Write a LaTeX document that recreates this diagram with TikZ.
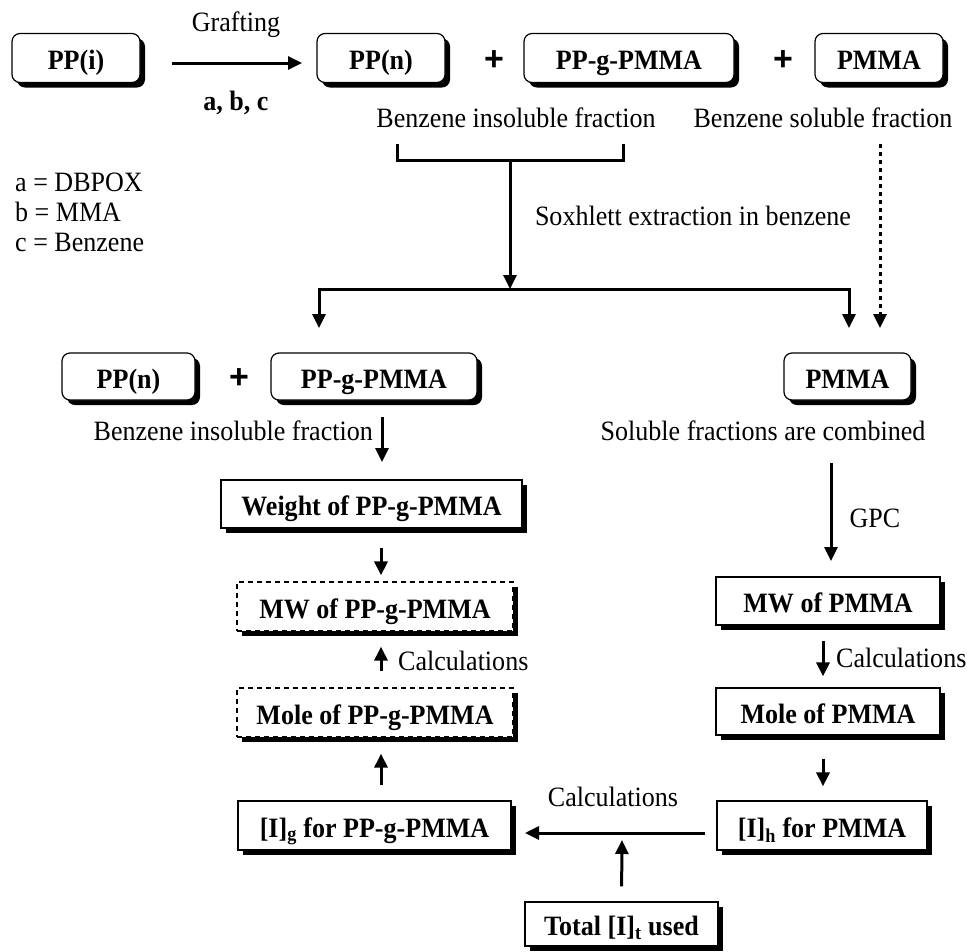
\documentclass[tikz,border=0pt]{standalone}
\usepackage{fontspec}
\setmainfont[FakeStretch=0.93]{Liberation Serif}
\newfontfamily\plusfont{Liberation Sans}
\usetikzlibrary{shadows,arrows.meta}
\begin{document}
\begin{tikzpicture}[x=1pt,y=-1pt,
  font=\fontsize{28}{32}\selectfont,
  base/.style={draw, line width=1.2pt, fill=white, inner sep=0pt,
     text height=23pt, text depth=0pt,
     font=\fontsize{28}{32}\selectfont\bfseries,
     drop shadow={shadow xshift=5pt, shadow yshift=-5pt, fill=black, opacity=1}},
  rbox/.style={base, rounded corners=8pt, minimum height=49pt},
  sbox/.style={base, minimum height=48pt},
  dbox/.style={base, dash pattern=on 5pt off 4pt, minimum height=49pt},
  arr/.style={line width=3pt, -{Triangle[length=14pt,width=13pt]}},
  thk/.style={line width=3pt},
  lbl/.style={inner sep=0pt},
  plus/.style={inner sep=0pt, font=\plusfont\fontsize{34}{34}\selectfont\bfseries},
]
\useasboundingbox (0,0) rectangle (967,951);

% ---- top row
\node[rbox, minimum width=128pt] (ppi) at (76,58) {PP(i)};
\node[rbox, minimum width=128pt] (ppn) at (381,58) {PP(n)};
\node[plus] (p1) at (494,61) {+};
\node[rbox, minimum width=210pt] (ppg) at (629,58) {PP-g-PMMA};
\node[plus] (p2) at (783,61) {+};
\node[rbox, minimum width=128pt] (pmma) at (879,58) {PMMA};

\coordinate (ga) at (172,63);
\coordinate (gb) at (302,63);
\draw[arr] (ga) -- (gb);
\node[lbl] (graft) at (236,25) {Grafting};
\node[lbl, font=\fontsize{28}{32}\selectfont\bfseries] (abc) at (236,103) {a, b, c};

\node[lbl] (bif) at (516,118) {Benzene insoluble fraction};
\node[lbl] (bsf) at (823,118) {Benzene soluble fraction};

\node[lbl, anchor=west] (la) at (15,182) {a = DBPOX};
\node[lbl, anchor=west] (lb) at (15,212) {b = MMA};
\node[lbl, anchor=west] (lc) at (15,242) {c = Benzene};

% bracket and extraction
\coordinate (bl) at (397,144);
\coordinate (bll) at (397,160);
\coordinate (brr) at (623,160);
\coordinate (br) at (623,144);
\draw[thk, line join=miter] (bl) -- (bll) -- (brr) -- (br);
\coordinate (bm) at (510,160);
\coordinate (jm) at (510,289);
\draw[arr] (bm) -- (jm);
\node[lbl] (sox) at (693,216) {Soxhlett extraction in benzene};

\coordinate (jl) at (319,289);
\coordinate (jr) at (849,289);
\coordinate (tl) at (319,328);
\coordinate (tr) at (849,328);
\draw[thk, line cap=rect] (jl) -- (jr);
\draw[arr] (jl) -- (tl);
\draw[arr] (jr) -- (tr);
\coordinate (da) at (880,144);
\coordinate (db) at (880,328);
\draw[line width=3pt, dash pattern=on 4pt off 4pt, -{Triangle[length=14pt,width=13pt]}] (da) -- (db);

% ---- second row
\node[rbox, minimum width=133pt, minimum height=47pt] (ppn2) at (128.5,376.5) {PP(n)};
\node[plus] (p3) at (239,379) {+};
\node[rbox, minimum width=206pt, minimum height=47pt] (ppg2) at (374,376.5) {PP-g-PMMA};
\node[rbox, minimum width=127pt, minimum height=47pt] (pmma2) at (847.5,376.5) {PMMA};

\node[lbl, anchor=east] (bif2) at (373,431) {Benzene insoluble fraction};
\node[lbl] (sfc) at (763,431) {Soluble fractions are combined};

% ---- left column
\node[sbox, minimum width=301pt] (wg) at (371.5,504) {Weight of PP-g-PMMA};
\node[dbox, minimum width=276pt] (mwg) at (375,606.5) {MW of PP-g-PMMA};
\node[dbox, minimum width=276pt] (mlg) at (375,712.5) {Mole of PP-g-PMMA};
\node[sbox, minimum width=273pt, minimum height=49pt] (ig) at (374.5,825.5) {[I]\textsubscript{g} for PP-g-PMMA};

\coordinate (a1) at (382,417);
\coordinate (a2) at (382,462);
\draw[arr] (a1) -- (a2);
\draw[arr, shorten <=19pt, shorten >=6pt] ([xshift=9.5pt]wg.south) -- ([xshift=6pt]mwg.north);
\draw[arr, shorten <=16pt, shorten >=15pt] ([xshift=6pt]mlg.north) -- ([xshift=6pt]mwg.south);
\node[lbl, anchor=west] (calc1) at (398,661) {Calculations};
\draw[arr, shorten <=15pt, shorten >=16pt] ([xshift=6.5pt]ig.north) -- ([xshift=6pt]mlg.south);

% ---- right column
\coordinate (g1) at (831,463);
\coordinate (g2) at (831,561);
\draw[arr] (g1) -- (g2);
\node[lbl] (gpc) at (875,518) {GPC};
\node[sbox, minimum width=224pt] (mwp) at (828,601) {MW of PMMA};
\node[sbox, minimum width=224pt, minimum height=47pt] (mlp) at (828,711.5) {Mole of PMMA};
\node[sbox, minimum width=210pt, minimum height=49pt] (ih) at (822,825.5) {[I]\textsubscript{h} for PMMA};
\draw[arr, shorten <=15pt, shorten >=11pt] ([xshift=-5pt]mwp.south) -- ([xshift=-5pt]mlp.north);
\node[lbl, anchor=west] (calc2) at (836,658) {Calculations};
\draw[arr, shorten <=23pt, shorten >=14pt] ([xshift=1pt]ih.north |- mlp.south) -- ([xshift=1pt]ih.north);

% ---- bottom
\node[sbox, minimum width=193pt, minimum height=44pt] (tot) at (621.5,924) {Total [I]\textsubscript{t} used};
\coordinate (hA) at (705,833);
\coordinate (hB) at (525,833);
\draw[arr] (hA) -- (hB);
\node[lbl] (calc3) at (613,797) {Calculations};
\coordinate (u2) at (622,840);
\draw[arr, shorten <=15pt] (tot.north) -- (u2);
\end{tikzpicture}
\end{document}
